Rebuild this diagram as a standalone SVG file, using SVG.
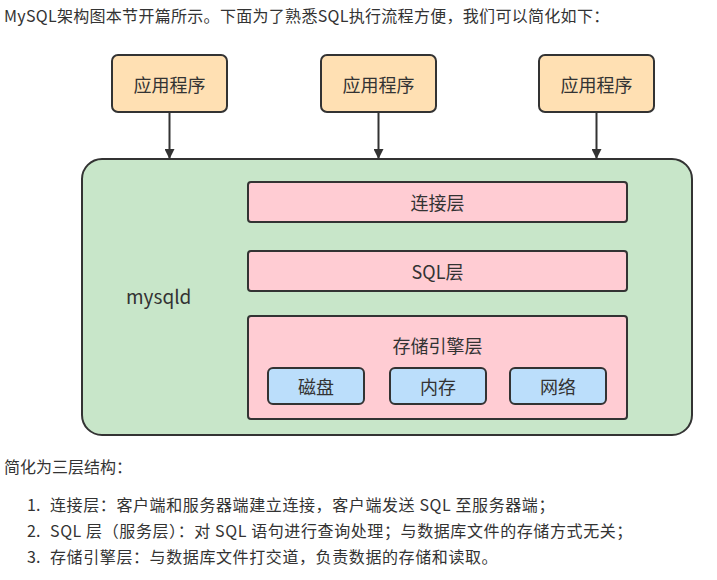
<svg xmlns="http://www.w3.org/2000/svg" width="717" height="580" viewBox="0 0 717 580">
<defs>
<style>
.t{font-family:"Noto Sans CJK SC","Noto Sans",sans-serif;fill:#333;}
.para{font-size:16px;}
.li{letter-spacing:0.6px;}
.lbl{font-size:18px;text-anchor:middle;dominant-baseline:central;fill:#333;}
.box{stroke:#333;stroke-width:2;}
.app{fill:#ffe0b3;}
.pink{fill:#ffccd3;}
.blue{fill:#bbdefb;}
.conn{stroke:#333;stroke-width:2;fill:none;}
</style>
<marker id="arr" viewBox="0 0 10 10" refX="9" refY="5" markerWidth="5" markerHeight="5" orient="auto" markerUnits="strokeWidth">
<path d="M0,0 L10,5 L0,10 z" fill="#333"/>
</marker>
</defs>
<rect width="717" height="580" fill="#fff"/>
<text class="t para" x="4" y="22" letter-spacing="0.3">MySQL架构图本节开篇所示。下面为了熟悉SQL执行流程方便，我们可以简化如下：</text>

<g id="mysqld">
<rect class="box" x="82" y="159" width="610" height="276" rx="20" fill="#c8e6c9"/>
<text class="t" x="126" y="295" font-size="19" dominant-baseline="central">mysqld</text>
</g>
<g id="app1"><rect class="box app" x="112" y="55" width="115" height="57" rx="6"/><text class="t lbl" x="169.5" y="83.5">应用程序</text></g>
<g id="app2"><rect class="box app" x="321" y="55" width="115" height="57" rx="6"/><text class="t lbl" x="378.5" y="83.5">应用程序</text></g>
<g id="app3"><rect class="box app" x="539" y="55" width="115" height="57" rx="6"/><text class="t lbl" x="596.5" y="83.5">应用程序</text></g>

<g id="connectors">
<line class="conn" x1="169.5" y1="112" x2="169.5" y2="158" marker-end="url(#arr)"/>
<line class="conn" x1="378.5" y1="112" x2="378.5" y2="158" marker-end="url(#arr)"/>
<line class="conn" x1="596.5" y1="112" x2="596.5" y2="158" marker-end="url(#arr)"/>
</g>

<g id="conn-layer"><rect class="box pink" x="248" y="182" width="379" height="40" rx="3"/><text class="t lbl" x="437.5" y="202">连接层</text></g>
<g id="sql-layer"><rect class="box pink" x="248" y="251" width="379" height="40" rx="3"/><text class="t lbl" x="437.5" y="271">SQL层</text></g>
<g id="storage-layer"><rect class="box pink" x="248" y="316" width="379" height="103" rx="3"/><text class="t lbl" x="437.5" y="345">存储引擎层</text></g>
<g id="disk"><rect class="box blue" x="268" y="368" width="96" height="36" rx="5"/><text class="t lbl" x="316" y="386" font-size="17">磁盘</text></g>
<g id="mem"><rect class="box blue" x="390" y="368" width="96" height="36" rx="5"/><text class="t lbl" x="438" y="386" font-size="17">内存</text></g>
<g id="net"><rect class="box blue" x="510" y="368" width="96" height="36" rx="5"/><text class="t lbl" x="558" y="386" font-size="17">网络</text></g>

<text class="t para" x="4" y="473">简化为三层结构：</text>
<text class="t para" x="27" y="511">1.</text>
<text class="t para li" x="50" y="511">连接层：客户端和服务器端建立连接，客户端发送 SQL 至服务器端；</text>
<text class="t para" x="27" y="537">2.</text>
<text class="t para li" x="50" y="537">SQL 层（服务层）：对 SQL 语句进行查询处理；与数据库文件的存储方式无关；</text>
<text class="t para" x="27" y="563">3.</text>
<text class="t para li" x="50" y="563">存储引擎层：与数据库文件打交道，负责数据的存储和读取。</text>
</svg>
